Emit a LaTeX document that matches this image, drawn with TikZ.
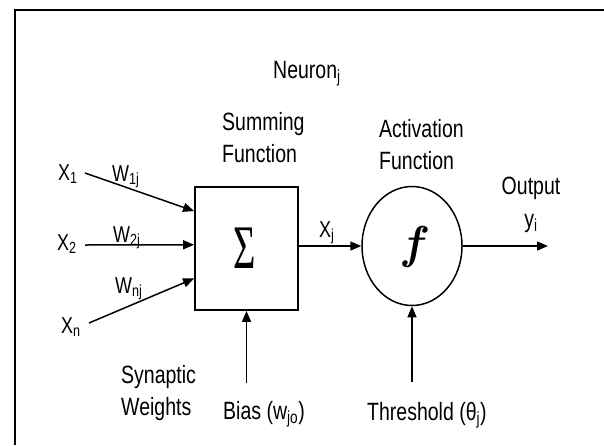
\documentclass[tikz,border=0pt]{standalone}
\usepackage{fontspec}
\usepackage{graphicx}
\setmainfont{Liberation Sans}[FakeStretch=0.78]
\newfontfamily\serifsig{Liberation Serif}
\newfontfamily\lmrfam{Latin Modern Roman}
\usetikzlibrary{arrows.meta,shapes.geometric,calc}
\begin{document}
\begin{tikzpicture}[x=1pt,y=-1pt,
  lbl/.style={inner sep=0pt, anchor=base west, font=\fontsize{25}{32}\selectfont},
  inp/.style={inner sep=0pt, anchor=base west, font=\fontsize{23}{25}\selectfont},
  arr/.style={line width=1.5pt, -{Triangle[length=11pt,width=9pt]}}]
\useasboundingbox (0,0) rectangle (604,445);
\fill[white] (0,0) rectangle (604,445);
% frame
\coordinate (fb) at (15,445);
\coordinate (fc) at (15,10);
\coordinate (fr) at (604,10);
\draw[line width=2pt] (fb) -- (fc) -- (fr);

% main blocks
\node[draw, line width=1.8pt, minimum width=103pt, minimum height=123pt, inner sep=0pt] (sum) at (246.5,248.5) {};
\node[inner sep=0pt] (sig) at (245,248) {\scalebox{0.62}[1]{\serifsig\fontsize{62}{62}\selectfont Σ}};
\node[draw, ellipse, line width=1.5pt, minimum width=100pt, minimum height=119pt, inner sep=0pt] (act) at (412,246) {};
\node[inner sep=0pt] (fsym) at (413,247) {\lmrfam\bfseries\itshape\fontsize{46}{46}\selectfont f};

% titles
\node[lbl] (neuron) at (273,78) {Neuron\textsubscript{j}};
\node[lbl, align=left] (sumlbl) at (222,162) {Summing\\Function};
\node[lbl, align=left] (actlbl) at (379,169) {Activation\\Function};
\node[lbl, align=center, anchor=base] (outlbl) at (531,227) {Output\\[1pt]y\textsubscript{i}};
\node[lbl, align=left] (syn) at (121,415) {Synaptic\\Weights};
\node[lbl] (bias) at (223,419) {Bias (w\textsubscript{jo})};
\node[lbl] (thr) at (367,420) {Threshold (θ\textsubscript{j})};

% inputs
\node[inp] (x1) at (58,180) {X\textsubscript{1}};
\node[inp] (w1) at (112,181) {W\textsubscript{1j}};
\node[inp] (x2) at (57,250) {X\textsubscript{2}};
\node[inp] (w2) at (113,242) {W\textsubscript{2j}};
\node[inp] (wn) at (115,293) {W\textsubscript{nj}};
\node[inp] (xn) at (61,333) {X\textsubscript{n}};
\node[inp] (xj) at (319,237) {X\textsubscript{j}};

\coordinate (s1) at (85,173);
\coordinate (s2) at (85,245);
\coordinate (sn) at (89,323);
\draw[arr] (s1) -- ($(sum.north west)!0.2!(sum.south west)$);
\draw[arr] (s2) -- ($(sum.north west)!0.47!(sum.south west)$);
\draw[arr] (sn) -- ($(sum.north west)!0.74!(sum.south west)$);

\draw[arr] (sum.east |- act.west) -- (act.west);
\coordinate (out) at (548,246);
\draw[arr] (act.east) -- (out);

\coordinate (b0) at (246.5,383);
\draw[arr] (b0) -- (sum.south);
\coordinate (t0) at (412,382);
\draw[arr] (t0) -- (act.south);
\end{tikzpicture}
\end{document}
